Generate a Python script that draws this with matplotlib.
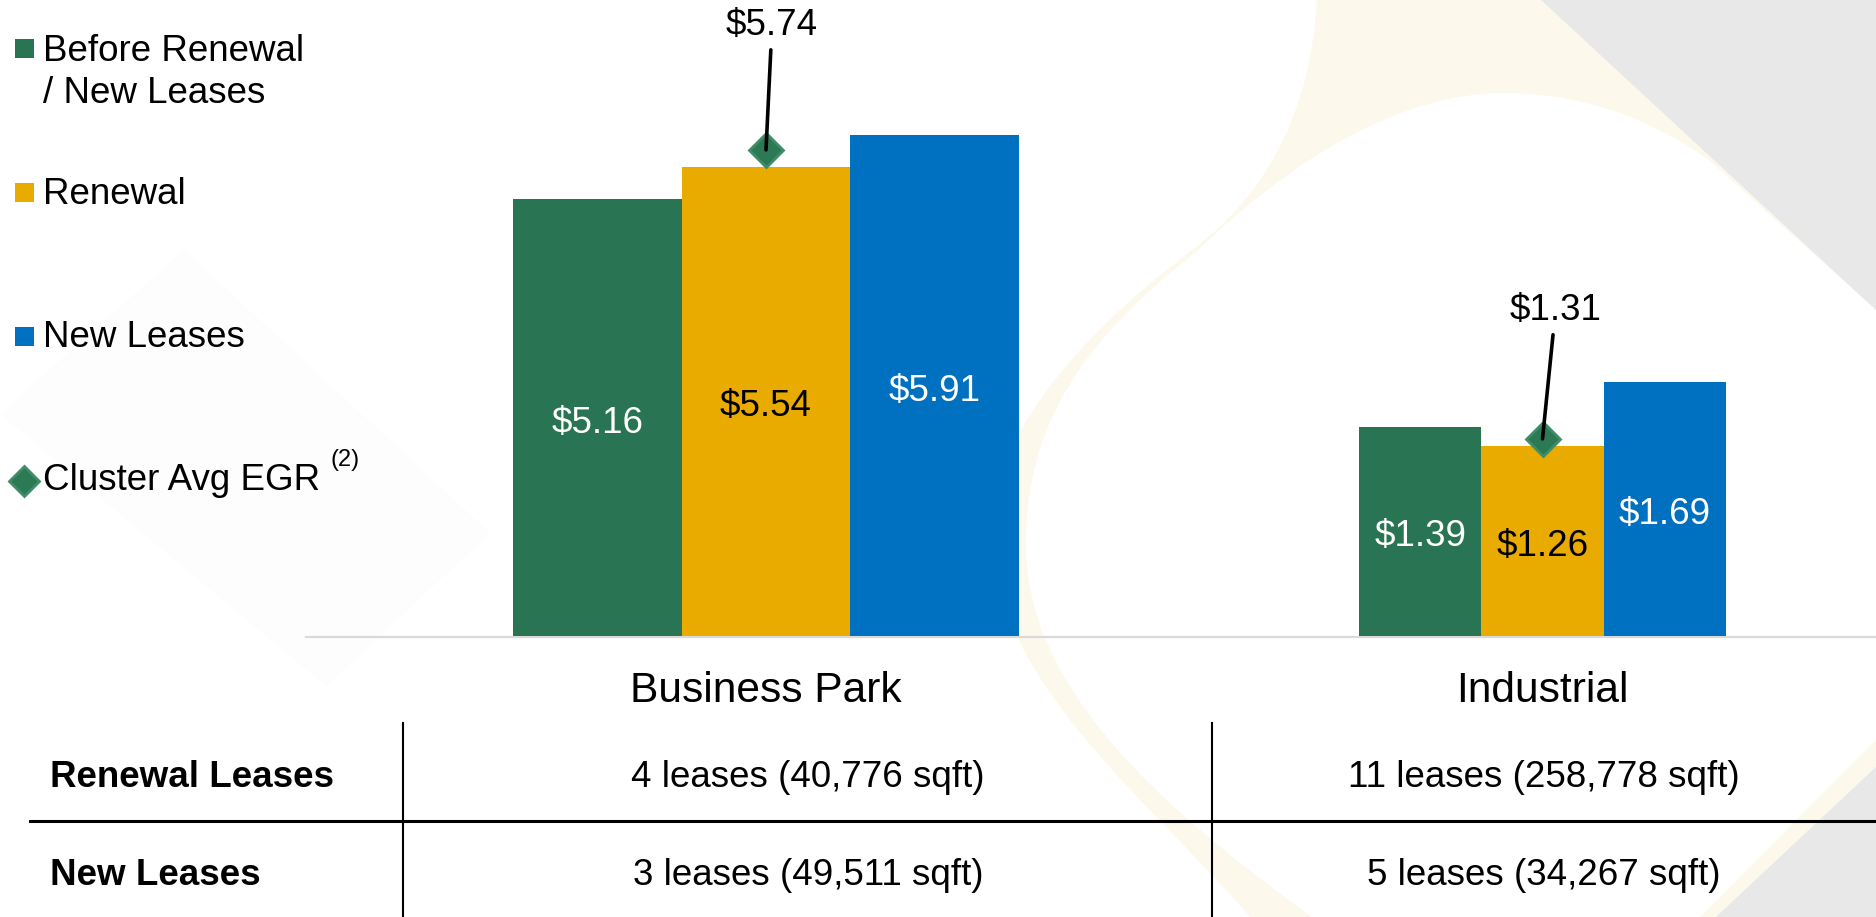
import matplotlib
matplotlib.use("Agg")
import matplotlib.pyplot as plt
from matplotlib.patches import Polygon, Rectangle, PathPatch
from matplotlib.path import Path

plt.rcParams["font.family"] = ["Liberation Sans", "DejaVu Sans"]

# data
categories = ["Business Park", "Industrial"]
series = ["Before Renewal\n/ New Leases", "Renewal", "New Leases"]
before_renewal = [5.16, 1.39]
renewal = [5.54, 1.26]
new_leases = [5.91, 1.69]
cluster_avg = [5.74, 1.31]
row_labels = ["Renewal Leases", "New Leases"]
renewal_leases = ["4 leases (40,776 sqft)", "11 leases (258,778 sqft)"]
new_lease_deals = ["3 leases (49,511 sqft)", "5 leases (34,267 sqft)"]

green, yellow, blue = "#297452", "#e9ab00", "#0070c0"
diamond_face, diamond_edge = "#2c7a55", "#3f8c66"
bar_colors = [green, yellow, blue]
label_colors = ["white", "black", "white"]
cream, grey = "#fcf8ec", "#e8e8e8"
FS = 26.5

W, H = 1876, 917
fig = plt.figure(figsize=(W / 100, H / 100), dpi=100)

# full-figure canvas in pixel units for background, legend and table
cv = fig.add_axes([0, 0, 1, 1])
cv.set_xlim(0, W)
cv.set_ylim(H, 0)
cv.axis("off")


def curved_shape(start, segments, tail):
    """Closed path: cubic bezier segments followed by straight edges."""
    verts, codes = [start], [Path.MOVETO]
    for c1, c2, end in segments:
        verts += [c1, c2, end]
        codes += [Path.CURVE4] * 3
    for p in tail:
        verts.append(p)
        codes.append(Path.LINETO)
    verts.append(start)
    codes.append(Path.CLOSEPOLY)
    return Path(verts, codes)


# background decoration
cv.add_patch(Polygon([(0, 414), (184, 250), (490, 533), (326, 686)],
                     closed=True, fc="#fdfdfd", ec="none"))
cream_path = curved_shape(
    (1317, 0),
    [((1310, 120), (1260, 200), (1192, 250)),
     ((1100, 320), (995, 420), (992, 530)),
     ((990, 680), (1150, 800), (1250, H))],
    [(W, H), (W, 0)])
cv.add_patch(PathPatch(cream_path, fc=cream, ec="none"))
white_path = curved_shape(
    (1312, H),
    [((1150, 800), (1020, 680), (1026, 533)),
     ((1030, 400), (1110, 320), (1196, 252)),
     ((1290, 160), (1400, 93), (1504, 93)),
     ((1590, 93), (1660, 125), (1709, 160))],
    [(W, 310), (W, 740), (1700, H)])
cv.add_patch(PathPatch(white_path, fc="white", ec="none"))
cv.add_patch(Polygon([(1541, 0), (W, 0), (W, 310)], closed=True,
                     fc=grey, ec="none"))
cv.add_patch(Polygon([(W, 767), (W, H), (1716, H)], closed=True,
                     fc=grey, ec="none"))

baseline = 636
cv.plot([306, W], [baseline + 1, baseline + 1], color="#d9d9d9", lw=1.6)

# legend
for yc, c in zip([48, 192, 336], bar_colors):
    cv.add_patch(Rectangle((15, yc - 9.5), 19, 19, fc=c, ec="none"))
cv.text(43, 61, "Before Renewal", fontsize=FS, va="baseline")
cv.text(43, 103, "/ New Leases", fontsize=FS, va="baseline")
cv.text(43, 204, series[1], fontsize=FS, va="baseline")
cv.text(43, 347, series[2], fontsize=FS, va="baseline")
cv.plot([24], [481], marker="D", ms=15, mfc=diamond_face, mec=diamond_edge,
        mew=2)
cv.text(43, 490, "Cluster Avg EGR", fontsize=FS, va="baseline")
cv.text(331, 466, "(2)", fontsize=17, va="baseline")

# table under the chart
cv.plot([30, W], [821, 821], color="black", lw=2.2)
for x in [403, 1212]:
    cv.plot([x, x], [723, H], color="black", lw=1.5)
col_centers = [808, 1544]
for yb, label, cells in zip([787, 885], row_labels,
                            [renewal_leases, new_lease_deals]):
    cv.text(50, yb, label, fontsize=FS, fontweight="bold", va="baseline")
    for xc, txt in zip(col_centers, cells):
        cv.text(xc, yb, txt, fontsize=FS, ha="center", va="baseline")

# one bar panel per category, each with its own scale
panels = [(513, 1019, 7.51, (6, 115)), (1359, 1726, 4.226, (13, 119))]
for i, cat in enumerate(categories):
    x0, x1, ymax, avg_off = panels[i]
    ax = fig.add_axes([x0 / W, 1 - baseline / H, (x1 - x0) / W, baseline / H])
    ax.set_xlim(-0.5, 2.5)
    ax.set_ylim(0, ymax)
    ax.axis("off")
    ax.patch.set_alpha(0)

    vals = [before_renewal[i], renewal[i], new_leases[i]]
    ax.bar(range(3), vals, width=1.0, color=bar_colors, zorder=2)
    for j, v in enumerate(vals):
        ax.annotate(f"${v:.2f}", (j, v / 2), xytext=(0, -15),
                    textcoords="offset pixels", ha="center", va="baseline",
                    fontsize=FS, color=label_colors[j], zorder=3)

    ax.plot([1], [cluster_avg[i]], marker="D", ms=17, mfc=diamond_face,
            mec=diamond_edge, mew=2, zorder=4, clip_on=False)
    ax.annotate(f"${cluster_avg[i]:.2f}", (1, cluster_avg[i]), xytext=avg_off,
                textcoords="offset pixels", ha="center", va="baseline",
                fontsize=FS, zorder=5, annotation_clip=False,
                arrowprops=dict(arrowstyle="-", lw=2.6, color="black",
                                shrinkA=3, shrinkB=0))

    ax.annotate(cat, (1, 0), xytext=(0, -66), textcoords="offset pixels",
                ha="center", va="baseline", fontsize=30.6,
                annotation_clip=False)

fig.savefig("out.png", dpi=100)
